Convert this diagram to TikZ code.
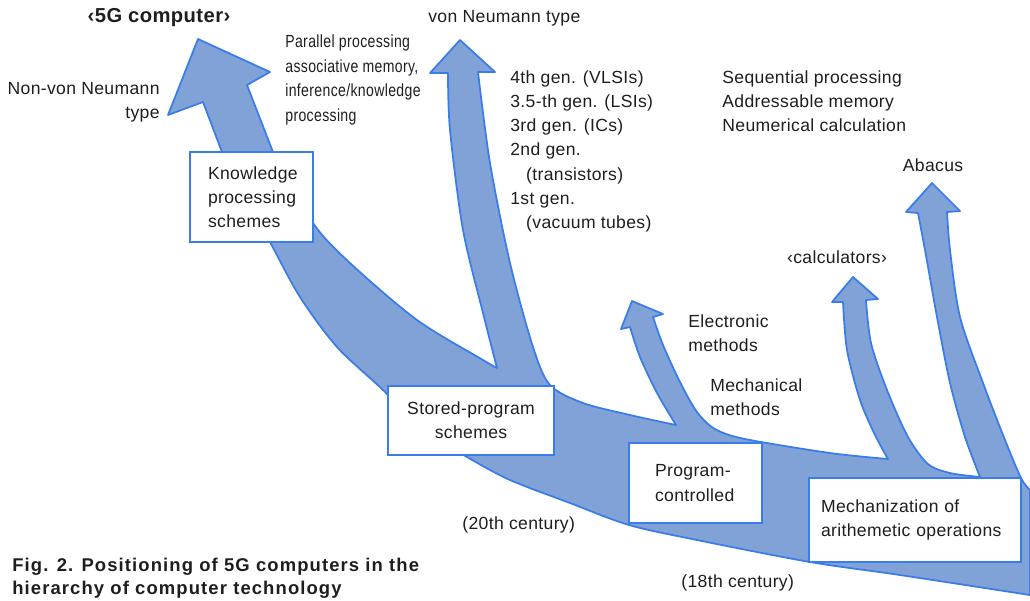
\documentclass[tikz,border=0pt]{standalone}
\usepackage{fontspec}
\setmainfont{Liberation Sans}[LetterSpace=2]
\newfontfamily\narrowfont{Liberation Sans}[FakeStretch=0.8, LetterSpace=2]
\definecolor{bandfill}{RGB}{128,162,215}
\definecolor{bandline}{RGB}{58,124,232}
\definecolor{ink}{RGB}{30,30,30}
\begin{document}
\begin{tikzpicture}[x=0.02cm, y=-0.02cm, font=\fontsize{10}{13.8}\selectfont, text=ink,
        band/.style={fill=bandfill, draw=bandline, line width=1pt, line join=round},
        box/.style={draw=bandline, fill=white, line width=0.8pt, inner ysep=0pt},
        lbl/.style={inner sep=0pt, align=left}]
        \useasboundingbox (0,0) rectangle (1030,600);
        \filldraw[band] (1030,595)
            -- plot[smooth] coordinates {(1030,595) (900,575) (810,562) (697,540) (629,525) (570,503) (510,480) (467,457) (420,428) (383,390) (337,347) (300,297) (270,242) (222,152)}
            -- (203,102) -- (168,115) -- (198,39) -- (270,72) -- (247,85) -- (273,152)
            -- plot[smooth] coordinates {(273,152) (313,223) (350,263) (417,320) (483,360) (497,368)}
            -- plot[smooth] coordinates {(497,368) (483,313) (463,230) (450,130) (448,73)}
            -- (430,73) -- (460,40) -- (495,72) -- (478,72)
            -- plot[smooth] coordinates {(478,72) (490,163) (510,263) (533,347) (550,385) (583,403) (630,415) (676,425)}
            -- plot[smooth] coordinates {(676,425) (657,393) (640,357) (630,327)}
            -- (621,329) -- (632,301) -- (663,314) -- (653,317)
            -- plot[smooth] coordinates {(653,317) (663,345) (680,382) (697,412) (715,429) (745,439) (830,453) (888,459)}
            -- plot[smooth] coordinates {(888,459) (875,435) (860,400) (847,350) (843,302)}
            -- (832,302) -- (853,277) -- (878,299) -- (866,300)
            -- plot[smooth] coordinates {(866,300) (871,343) (887,390) (908,437) (928,464) (950,473) (980,477)}
            -- plot[smooth] coordinates {(980,477) (965,437) (950,383) (937,317) (925,250) (918,213)}
            -- (906,212) -- (932,183) -- (960,211) -- (947,212)
            -- plot[smooth] coordinates {(947,212) (950,250) (960,317) (983,383) (1005,440) (1021,478) (1030,490)}
            -- cycle;
        \node (know) at (251.5,197) [box, minimum width=2.46cm, minimum height=1.8cm, inner xsep=0.36cm, text width=1.74cm, align=left] {Knowledge\\processing\\schemes};
        \node (stored) at (471,420.5) [box, minimum width=3.32cm, minimum height=1.38cm, align=center] {Stored-program\\schemes};
        \node (progctl) at (695.5,483) [box, minimum width=2.66cm, minimum height=1.6cm, inner xsep=0.52cm, text width=1.62cm, align=left] {Program-\\controlled};
        \node (mech) at (915,520) [box, minimum width=4.24cm, minimum height=1.68cm, inner xsep=0.24cm, text width=3.76cm, align=left] {Mechanization of\\arithemetic operations};
        \node (fifthgen) at (159,18) [inner sep=0pt, font=\fontsize{11.5}{13}\selectfont\bfseries] {‹5G computer›};
        \node (nonvon) at (160,82) [lbl, anchor=north east, align=right] {Non-von Neumann\\type};
        \node (parallel) at (285,34) [lbl, anchor=north west, font=\narrowfont\fontsize{10}{14.2}\selectfont] {Parallel processing\\associative memory,\\inference/knowledge\\processing};
        \node (vonn) at (428,18) [lbl, anchor=west] {von Neumann type};
        \node (gens) at (510,70) [lbl, anchor=north west] {4th gen. (VLSIs)\\3.5-th gen. (LSIs)\\3rd gen. (ICs)\\2nd gen.\\\hspace*{9pt}(transistors)\\1st gen.\\\hspace*{9pt}(vacuum tubes)};
        \node (seqproc) at (722,70) [lbl, anchor=north west] {Sequential processing\\Addressable memory\\Neumerical calculation};
        \node (abacus) at (933,165) [inner sep=0pt] {Abacus};
        \node (calcs) at (837,257) [inner sep=0pt] {‹calculators›};
        \node (electr) at (688,314) [lbl, anchor=north west] {Electronic\\methods};
        \node (mechan) at (710,378) [lbl, anchor=north west] {Mechanical\\methods};
        \node (cent20) at (462,525) [lbl, anchor=west] {(20th century)};
        \node (cent18) at (681,583) [lbl, anchor=west] {(18th century)};
        \node (caption) at (12,558) [lbl, anchor=north west, font=\addfontfeatures{LetterSpace=6}\fontsize{10.5}{13}\selectfont\bfseries] {Fig. 2. Positioning of 5G computers in the\\hierarchy of computer technology};
    \end{tikzpicture}
\end{document}
